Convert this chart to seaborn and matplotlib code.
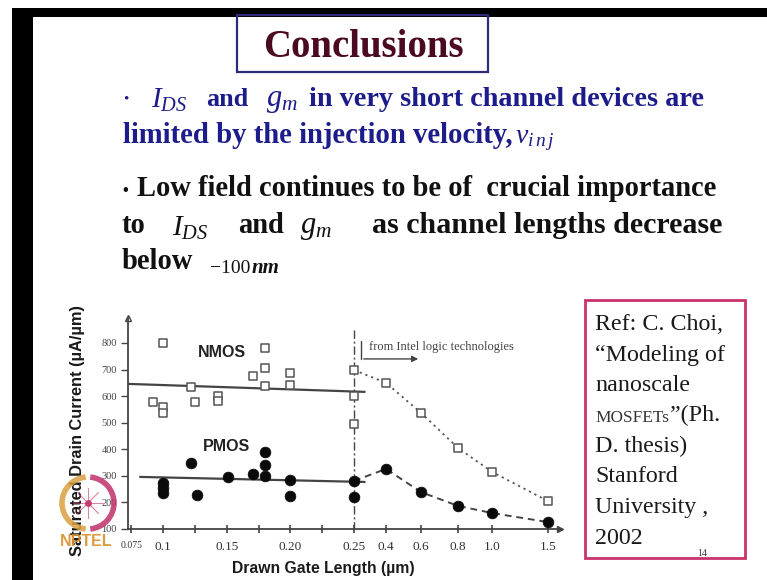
import numpy as np
import matplotlib
matplotlib.use("Agg")
import matplotlib.pyplot as plt
import seaborn as sns
from matplotlib.patches import Rectangle, Arc

# ---------------- data ----------------
nmos_x = [0.092, 0.1, 0.1, 0.1, 0.122, 0.125, 0.143, 0.143, 0.171, 0.18, 0.18, 0.18, 0.2, 0.2, 0.25, 0.25, 0.25]
nmos_y = [578, 800, 559, 535, 636, 578, 601, 582, 676, 781, 706, 638, 687, 640, 698, 601, 495]
pmos_x = [0.1, 0.1, 0.1, 0.122, 0.127, 0.151, 0.171, 0.18, 0.18, 0.18, 0.2, 0.2, 0.25, 0.25]
pmos_y = [273, 254, 235, 348, 228, 296, 307, 390, 341, 300, 284, 224, 281, 220]
intel_x = [0.25, 0.4, 0.6, 0.8, 1.0, 1.5]
intel_nmos = [698, 650, 537, 405, 315, 205]
intel_pmos = [281, 326, 239, 187, 160, 126]
nfit_x = [0.073, 0.30]
nfit_y = [646, 616]
pfit_x = [0.082, 0.30]
pfit_y = [296, 277]
xticks = [0.075, 0.1, 0.15, 0.2, 0.25, 0.4, 0.6, 0.8, 1.0, 1.5]
xticklabels = ["0.075", "0.1", "0.15", "0.20", "0.25", "0.4", "0.6", "0.8", "1.0", "1.5"]
xminor = [0.125, 0.175, 0.225]
yticks = [100, 200, 300, 400, 500, 600, 700, 800]
divider_x = 0.25

ref_lines = ["Ref: C. Choi,", "\u201cModeling of", "nanoscale", None, "D. thesis)",
             "Stanford", "University ,", "2002"]

# ---------------- figure ----------------
W, H = 767, 580
sns.set_theme(style="white")
plt.rcParams["font.family"] = ["Liberation Serif", "DejaVu Serif"]
plt.rcParams["mathtext.fontset"] = "custom"
plt.rcParams["mathtext.rm"] = "Liberation Serif"
plt.rcParams["mathtext.it"] = "Liberation Serif:italic"
plt.rcParams["mathtext.bf"] = "Liberation Serif:bold"

fig = plt.figure(figsize=(W / 100, H / 100), dpi=100)
fig.patch.set_facecolor("white")
r = fig.canvas.get_renderer()

bg = fig.add_axes([0, 0, 1, 1], zorder=0)
bg.set_xlim(0, W)
bg.set_ylim(H, 0)
bg.axis("off")

fg = fig.add_axes([0, 0, 1, 1], zorder=5)
fg.set_xlim(0, W)
fg.set_ylim(H, 0)
fg.axis("off")
fg.patch.set_alpha(0)


def fit(t, w, vertical=False):
    bb = t.get_window_extent(renderer=r)
    cur = bb.height if vertical else bb.width
    t.set_fontsize(t.get_fontsize() * w / cur)
    return t.get_fontsize()


# black frame bars
bg.add_patch(Rectangle((12, 8), W, 9, color="black", lw=0))
bg.add_patch(Rectangle((12, 8), 21, H, color="black", lw=0))

# title
bg.add_patch(Rectangle((237, 15), 251, 57, fill=False, ec="#2b2b7a", lw=1.6))
t = bg.text(363, 57, "Conclusions", ha="center", va="baseline", weight="bold",
            color="#4b0a22", fontsize=25)
fit(t, 200)

BLUE = "#1c1c8a"
BLK = "#111111"
# bullet 1
bg.text(123, 102, "\u2022", color=BLUE, fontsize=11, va="baseline")
bg.text(151, 108, r"$I_{DS}$", color=BLUE, fontsize=21, va="baseline")
t = bg.text(206, 106, "and", color=BLUE, weight="bold", fontsize=18, va="baseline")
s1 = fit(t, 42)
bg.text(266, 106, r"$g_m$", color=BLUE, fontsize=22, va="baseline")
t = bg.text(309, 106, "in very short channel devices are", color=BLUE, weight="bold",
            fontsize=s1, va="baseline")
fit(t, 394)
t = bg.text(123, 143, "limited by the injection velocity,", color=BLUE, weight="bold",
            fontsize=s1, va="baseline")
fit(t, 390)
bg.text(515, 143, r"$v_{i\,n\,j}$", color=BLUE, fontsize=20, va="baseline")

# bullet 2
bg.text(122, 195, "\u2022", color=BLK, fontsize=12, va="baseline", weight="bold")
t = bg.text(137, 196, "Low field continues to be of  crucial importance", color=BLK,
            weight="bold", fontsize=18, va="baseline")
s2 = fit(t, 580)
bg.text(122, 233, "to", color=BLK, weight="bold", fontsize=s2, va="baseline")
bg.text(172, 236, r"$I_{DS}$", color=BLK, fontsize=21, va="baseline")
bg.text(238, 233, "and", color=BLK, weight="bold", fontsize=s2, va="baseline")
bg.text(300, 233, r"$g_m$", color=BLK, fontsize=22, va="baseline")
t = bg.text(372, 233, "as channel lengths decrease", color=BLK, weight="bold",
            fontsize=s2, va="baseline")
fit(t, 350)
bg.text(122, 269, "below", color=BLK, weight="bold", fontsize=s2, va="baseline")
t = bg.text(210, 273, "\u2212100", color=BLK, fontsize=14, va="baseline")
bb = t.get_window_extent(renderer=r)
bg.text(210 + bb.width + 1, 273, "nm", color=BLK, fontsize=15, va="baseline",
        style="italic", weight="bold")

# reference box
bg.add_patch(Rectangle((585, 300), 160, 258, fill=True, fc="white", ec="#c8336e", lw=2))
t = bg.text(595, 355, ref_lines[1], fontsize=16, va="baseline", color="#1a1a1a")
sr = fit(t, 130)
for i, line in enumerate(ref_lines):
    yb = 330 + i * 30.5
    if i == 1:
        t.set_y(yb)
        continue
    if line is None:
        tm = bg.text(595, yb, "MOSFETs", fontsize=sr * 0.72, va="baseline", color="#333333")
        bw = tm.get_window_extent(renderer=r).width
        bg.text(595 + bw + 1, yb, "\u201d(Ph.", fontsize=sr, va="baseline", color="#1a1a1a")
    else:
        bg.text(595, yb, line, fontsize=sr, va="baseline", color="#1a1a1a")
bg.text(697, 556, "14", fontsize=7, va="baseline", color="#333333")

# ---------------- chart ----------------
L, R, T, B = 128, 560, 318, 529
ax = fig.add_axes([L / W, 1 - B / H, (R - L) / W, (B - T) / H], zorder=2)
ax.patch.set_alpha(0)

XB = [0.0, 0.25, 0.4, 0.6, 0.8, 1.0, 1.5, 2.0]
PB = [35.75, 354, 386, 421, 458, 492, 548, 604]

GREY = "#444444"
sns.lineplot(x=nfit_x, y=nfit_y, ax=ax, color=GREY, lw=1.6, estimator=None, sort=False)
sns.lineplot(x=pfit_x, y=pfit_y, ax=ax, color=GREY, lw=1.6, estimator=None, sort=False)
sns.lineplot(x=intel_x, y=intel_nmos, ax=ax, color="#555555", lw=1.3, estimator=None,
             sort=False, linestyle=(0, (1.2, 2.2)))
sns.lineplot(x=intel_x, y=intel_pmos, ax=ax, color="#444444", lw=1.4, estimator=None,
             sort=False, linestyle=(0, (3.5, 2.5)))
sns.scatterplot(x=nmos_x + intel_x[1:], y=nmos_y + intel_nmos[1:], ax=ax, marker="s",
                s=30, facecolor="white", edgecolor="#555555", linewidth=1.1, zorder=4)
sns.scatterplot(x=pmos_x + intel_x[1:], y=pmos_y + intel_pmos[1:], ax=ax, marker="o",
                s=60, color="#0a0a0a", edgecolor="#0a0a0a", linewidth=0.5, zorder=4)
ax.vlines(divider_x, 98, 852, colors=GREY, lw=1.0, linestyles=(0, (6, 2, 1.5, 2)))

ax.set_xscale("function", functions=(lambda x: np.interp(x, XB, PB),
                                      lambda p: np.interp(p, PB, XB)))
ax.set_xlim(0.0725, 1.607)
ax.set_ylim(100, 894)

ax.set_xticks(xticks)
ax.set_xticklabels(xticklabels)
ax.set_xticks(xminor, minor=True)
ax.set_yticks(yticks)
ax.set_yticklabels([str(v) for v in yticks])
ax.tick_params(axis="x", which="both", direction="inout", length=6, width=1.2,
               colors=GREY, labelsize=9.5, pad=6, bottom=True)
ax.tick_params(axis="y", direction="out", length=5, width=1.0, colors=GREY,
               labelsize=7.5, pad=3, left=True)
for lab in ax.get_xticklabels():
    lab.set_color("#333333")
ax.get_xticklabels()[0].set_fontsize(7)

for side in ["top", "right"]:
    ax.spines[side].set_visible(False)
for side in ["left", "bottom"]:
    ax.spines[side].set_color(GREY)
    ax.spines[side].set_linewidth(1.3)
ax.plot(0, 1, marker="^", ms=5, color=GREY, transform=ax.transAxes, clip_on=False,
        mfc="none", mew=1.0)
ax.plot(1, 0, marker=">", ms=4, color=GREY, transform=ax.transAxes, clip_on=False)

ax.set_xlabel("")
ax.set_ylabel("")

# labels within chart
ax.text(0.127, 766, "NMOS", fontsize=11.5, weight="bold", color="#222222",
        family="Liberation Sans", va="center", ha="left")
ax.text(0.131, 409, "PMOS", fontsize=11.5, weight="bold", color="#222222",
        family="Liberation Sans", va="center", ha="left")
ax.plot([0.283, 0.283], [740, 807], color=GREY, lw=1.0)
ax.annotate("", xy=(0.60, 740), xytext=(0.283, 740),
            arrowprops=dict(arrowstyle="-|>", color=GREY, lw=1.0, mutation_scale=9))
ax.text(0.322, 784, "from Intel logic technologies", fontsize=9, color="#444444",
        va="center", ha="left")

# axis titles
t = bg.text(78, 431, "Saturated Drain Current (\u00b5A/\u00b5m)", rotation=90,
            ha="center", va="center", weight="bold", family="Liberation Sans",
            color="#1a1a1a", fontsize=10)
fit(t, 252, vertical=True)
t = bg.text(323, 568, "Drawn Gate Length (\u00b5m)", ha="center", va="center",
            weight="bold", family="Liberation Sans", color="#1a1a1a", fontsize=10)
fit(t, 182)

# NPTEL watermark
fg.add_patch(Arc((88, 503), 52, 52, theta1=95, theta2=265, color="#d9a040", lw=4, alpha=0.85))
fg.add_patch(Arc((88, 503), 52, 52, theta1=-85, theta2=85, color="#c0306a", lw=4, alpha=0.85))
for ang in np.linspace(0, 2 * np.pi, 9)[:-1]:
    fg.plot([88, 88 + 15 * np.cos(ang)], [503, 503 + 15 * np.sin(ang)], color="#c0306a",
            lw=0.8, alpha=0.6)
fg.plot(88, 503, marker="o", ms=4, color="#c0306a", alpha=0.8)
t = fg.text(86, 541, "NPTEL", ha="center", va="center", weight="bold",
            family="Liberation Sans", color="#d9902a", fontsize=10, alpha=0.9)
fit(t, 52)

fig.savefig("out.png", dpi=100, facecolor="white")
